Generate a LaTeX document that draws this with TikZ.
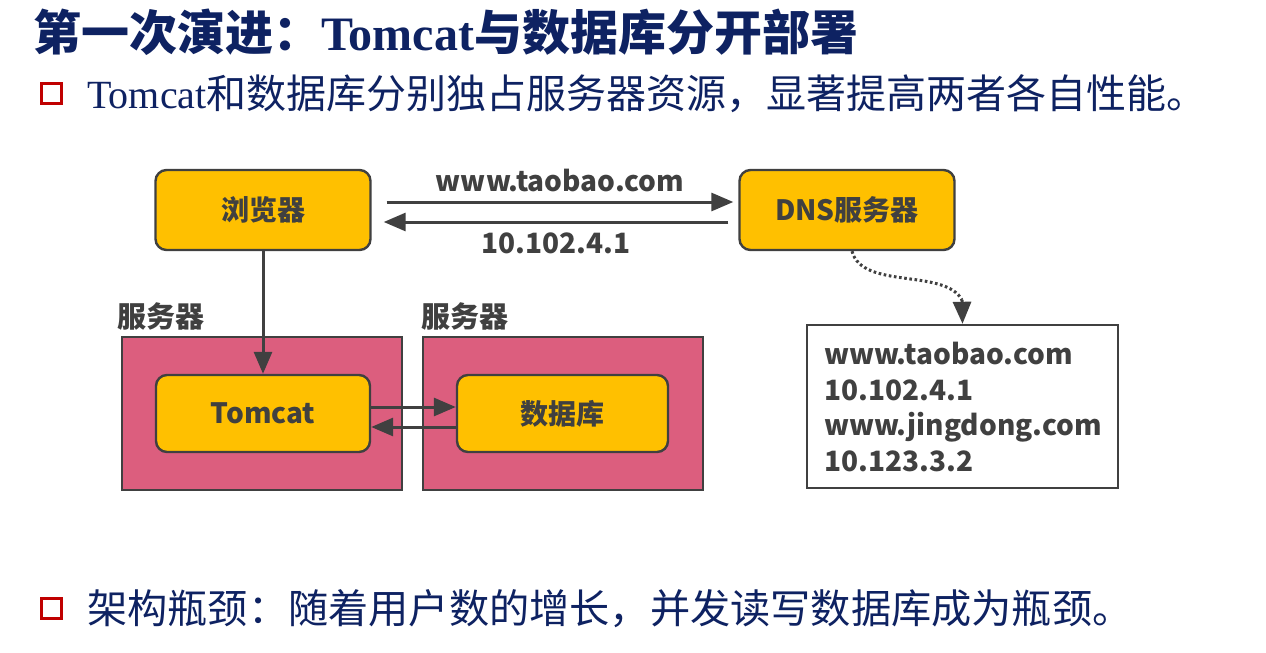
\documentclass[tikz,border=0pt]{standalone}
\usepackage{fontspec}
\setmainfont{Liberation Serif}
\newfontfamily\cjk{Noto Sans CJK SC}
\usetikzlibrary{arrows.meta,positioning}
\definecolor{navy}{RGB}{14,34,98}
\definecolor{boxy}{RGB}{255,192,0}
\definecolor{pinkr}{RGB}{220,94,126}
\definecolor{dk}{RGB}{64,64,64}
\definecolor{sqred}{RGB}{192,0,0}
\tikzset{
  ybox/.style={draw=dk, line width=2.4pt, fill=boxy, rounded corners=11pt, text=dk, font=\cjk\bfseries\fontsize{28}{32}\selectfont, inner sep=0pt},
  srv/.style={draw=dk, line width=2.4pt, fill=pinkr, inner sep=0pt},
  arr/.style={draw=dk, line width=3pt, -{Triangle[length=22pt,width=18pt]}},
  lbl/.style={text=dk, font=\cjk\bfseries\fontsize{28}{32}\selectfont, inner sep=0pt},
  slbl/.style={text=dk, font=\cjk\bfseries\fontsize{29}{32}\selectfont, inner sep=0pt, anchor=west},
  sq/.style={draw=sqred, line width=3pt, minimum size=20pt, inner sep=0pt},
}
\begin{document}
\begin{tikzpicture}[x=1pt,y=-1pt]
\useasboundingbox[fill=white] (0,0) rectangle (1266,653);
% title
\node[anchor=west, inner sep=0pt, text=navy] (title) at (33,32)
  {\cjk\bfseries\fontsize{48}{52}\selectfont 第一次演进：{\rmfamily\bfseries Tomcat}与数据库分开部署};
\node[sq] (sq1) at (51,93) {};
\node[anchor=west, inner sep=0pt, text=navy] (line1) at (87,94)
  {\fontsize{40}{44}\selectfont Tomcat{\cjk 和数据库分别独占服务器资源，显著提高两者各自性能。}};
\node[sq] (sq2) at (51,608) {};
\node[anchor=west, inner sep=0pt, text=navy] (line2) at (87,609)
  {\cjk\fontsize{40.2}{44}\selectfont 架构瓶颈：随着用户数的增长，并发读写数据库成为瓶颈。};
% diagram
\node[ybox, minimum width=215pt, minimum height=80pt] (browser) at (263,210) {浏览器};
\node[ybox, minimum width=215pt, minimum height=80pt] (dns) at (847,210) {DNS服务器};
\node[srv, minimum width=280pt, minimum height=153pt] (srv1) at (262,413.5) {};
\node[srv, minimum width=280pt, minimum height=153pt] (srv2) at (563,413.5) {};
\node[slbl] (s1lbl) at (117,316) {服务器};
\node[slbl] (s2lbl) at (421,316) {服务器};
\node[ybox, minimum width=214pt, minimum height=77pt] (tomcat) at (263,413.5) {Tomcat};
\node[ybox, minimum width=211pt, minimum height=77pt] (db) at (562.5,413.5) {数据库};
\node[draw=dk, line width=2.4pt, fill=white, minimum width=311pt, minimum height=163pt, inner sep=0pt] (table) at (962.5,406.5) {};
\node[anchor=west, text=dk, font=\cjk\bfseries\fontsize{28}{35.5}\selectfont, align=left, inner sep=0pt] (tabtxt) at (824,407)
  {www.taobao.com\\10.102.4.1\\www.jingdong.com\\10.123.3.2};
% arrows
\draw[arr] ([shift={(15,-8)}]browser.east) -- node[lbl, above=9pt] (q) {www.taobao.com} ([shift={(-5,-8)}]dns.west);
\draw[arr] ([shift={(-10,12)}]dns.west) -- node[lbl, below=9pt] (a) {10.102.4.1} ([shift={(12,12)}]browser.east);
\draw[arr] (browser.south) -- (tomcat.north);
\draw[arr] ([yshift=6.5pt]tomcat.east) -- ([yshift=6.5pt]db.west);
\draw[arr] ([yshift=-13.5pt]db.west) -- ([yshift=-13.5pt]tomcat.east);
\coordinate (bend) at (962,300);
\draw[draw=dk, line width=3pt, dash pattern=on 2.6pt off 2.6pt] ([xshift=5pt]dns.south) .. controls (862,290) and (945,268) .. (bend);
\draw[arr] (bend) -- (table.north);
\end{tikzpicture}
\end{document}
